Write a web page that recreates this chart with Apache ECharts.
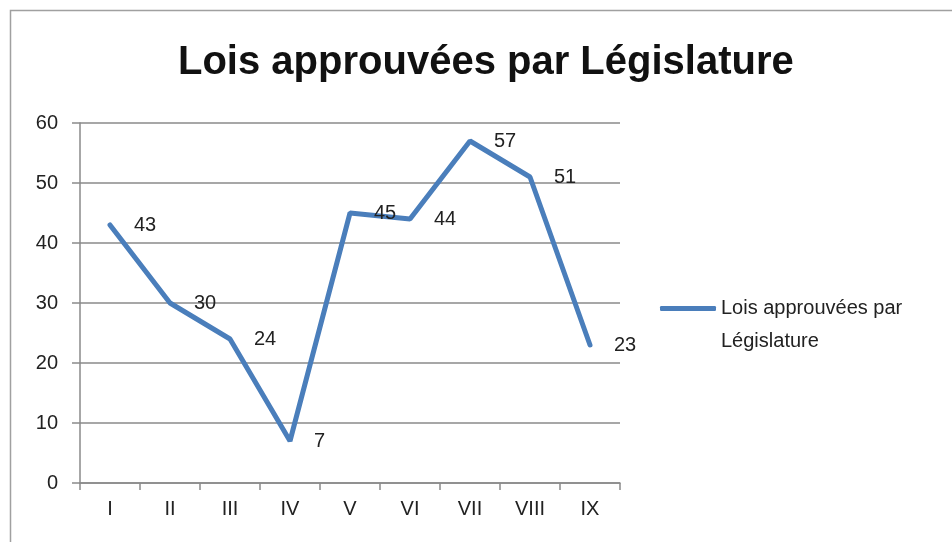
<!doctype html>
<html lang="fr">
<head>
<meta charset="UTF-8">
<title>Lois approuvées par Législature</title>
<script src="https://cdn.jsdelivr.net/npm/echarts@6/dist/echarts.min.js"></script>
<style>
  html, body { margin: 0; padding: 0; background: #fff; }
  #chart { width: 952px; height: 542px; }
</style>
</head>
<body>
<div id="chart"></div>
<script>
    // données
    var legislatures = ['I', 'II', 'III', 'IV', 'V', 'VI', 'VII', 'VIII', 'IX'];
    var loisApprouvees = [43, 30, 24, 7, 45, 44, 57, 51, 23];
    var serieNom = 'Lois approuvées par Législature';

    var chart = echarts.init(document.getElementById('chart'));
    var font = '"Liberation Sans", Arial, sans-serif';

    var option = {
        animation: false,
        title: {
            text: serieNom,
            left: 173,
            top: 38,
            textStyle: { fontFamily: font, fontSize: 40, fontWeight: 'bold', color: '#111' }
        },
        graphic: [{
            type: 'rect',
            silent: true,
            shape: { x: 10.5, y: 10.5, width: 1000, height: 600 },
            style: { fill: 'none', stroke: '#a0a0a0', lineWidth: 1.5 }
        }],
        legend: {
            data: [{ name: serieNom, icon: 'roundRect', itemStyle: { color: '#4a7ebb', opacity: 1 } }],
            orient: 'vertical',
            left: 655,
            top: 254,
            itemWidth: 56,
            itemHeight: 5,
            itemGap: 4,
            formatter: function () { return '\nLois approuvées par\nLégislature'; },
            textStyle: { fontFamily: font, fontSize: 20, color: '#222', lineHeight: 33 }
        },
        grid: { left: 80, right: 332, top: 123, bottom: 59 },
        xAxis: {
            type: 'category',
            data: legislatures,
            boundaryGap: true,
            axisLine: { lineStyle: { color: '#8a8a8a', width: 1.5 } },
            axisTick: { show: true, length: 7, lineStyle: { color: '#8a8a8a', width: 1.5 } },
            axisLabel: { margin: 16, fontFamily: font, fontSize: 20, color: '#222' }
        },
        yAxis: {
            type: 'value',
            min: 0,
            max: 60,
            interval: 10,
            axisLine: { show: true, lineStyle: { color: '#8a8a8a', width: 1.5 } },
            axisTick: { show: true, length: 8, lineStyle: { color: '#8a8a8a', width: 1.5 } },
            splitLine: { lineStyle: { color: '#8a8a8a', width: 1.5 } },
            axisLabel: { margin: 22, fontFamily: font, fontSize: 20, color: '#222' }
        },
        series: [{
            name: serieNom,
            type: 'line',
            data: loisApprouvees,
            symbol: 'circle',
            symbolSize: 0,
            showSymbol: true,
            lineStyle: { color: '#4a7ebb', width: 5, cap: 'round' },
            itemStyle: { color: '#4a7ebb' },
            label: {
                show: true,
                position: 'right',
                distance: 24,
                fontFamily: font,
                fontSize: 20,
                color: '#222'
            }
        }]
    };

    chart.setOption(option);
</script>
</body>
</html>
